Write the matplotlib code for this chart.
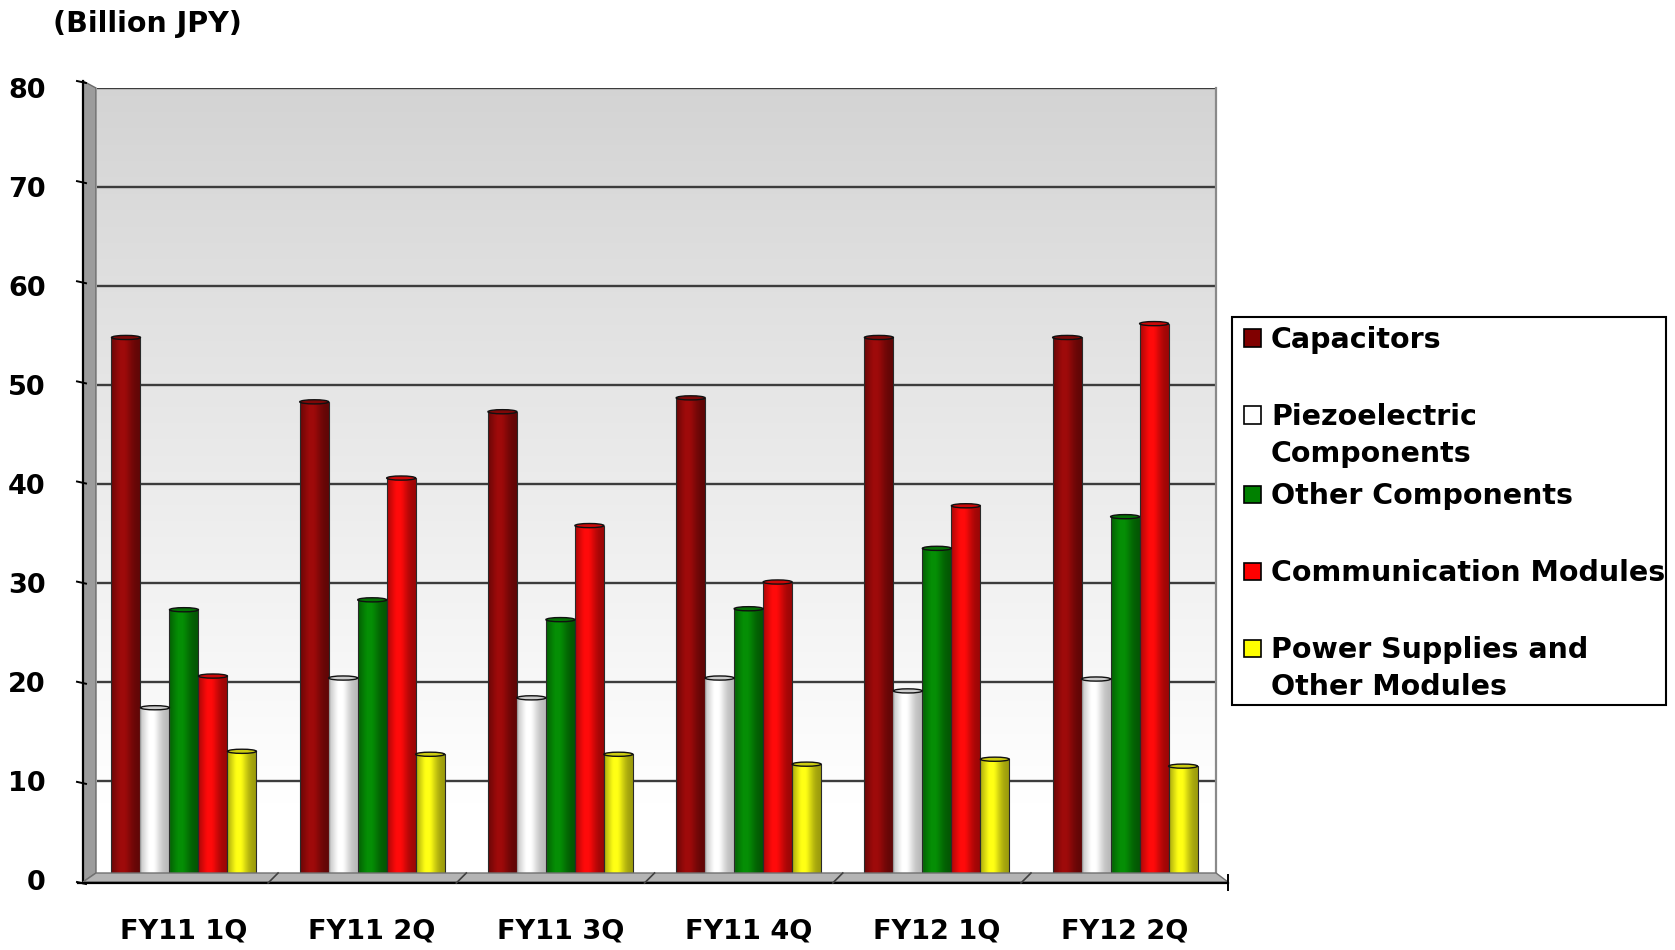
import numpy as np
import matplotlib
matplotlib.use("Agg")
import matplotlib.pyplot as plt
from matplotlib.patches import Rectangle, Ellipse, Polygon
from matplotlib.lines import Line2D

# ---- data (billion JPY) ----
quarters = ["FY11 1Q", "FY11 2Q", "FY11 3Q", "FY11 4Q", "FY12 1Q", "FY12 2Q"]
series_names = ["Capacitors", "Piezoelectric\nComponents", "Other Components",
                "Communication Modules", "Power Supplies and\nOther Modules"]
capacitors = [54.8, 48.3, 47.3, 48.7, 54.8, 54.8]
piezoelectric = [17.4, 20.4, 18.4, 20.4, 19.1, 20.3]
other_components = [27.3, 28.3, 26.3, 27.4, 33.5, 36.7]
communication_modules = [20.6, 40.6, 35.8, 30.1, 37.8, 56.2]
power_supplies = [13.0, 12.7, 12.7, 11.7, 12.2, 11.5]
y_ticks = [0, 10, 20, 30, 40, 50, 60, 70, 80]
unit_label = "(Billion JPY)"

series_values = [capacitors, piezoelectric, other_components,
                 communication_modules, power_supplies]
base_colors = [(0.62, 0.04, 0.04), (1.0, 1.0, 1.0), (0.02, 0.56, 0.02),
               (1.0, 0.04, 0.04), (1.0, 1.0, 0.08)]
legend_colors = ["#800000", "#ffffff", "#008000", "#ff0000", "#ffff00"]

W, H = 1675, 950
fig = plt.figure(figsize=(W / 100, H / 100), dpi=100)
fig.patch.set_facecolor("white")
FONT = "DejaVu Sans"


def fpt(x, y):
    """pixel position (origin top-left) -> figure fraction"""
    return (x / W, 1 - y / H)


# back wall = axes area
ax_left, ax_right, ax_top, ax_bottom = 97, 1216, 88, 880
ax = fig.add_axes([ax_left / W, 1 - ax_bottom / H,
                   (ax_right - ax_left) / W, (ax_bottom - ax_top) / H])
x_lo, x_hi = -0.462, 5.483
ax.set_xlim(x_lo, x_hi)
ax.set_ylim(0, 80)

# gradient wall: gray at the top fading to white at the bottom
yy = np.linspace(80, 0, 200)
shade = np.clip(0.83 + (80 - yy) / 72 * 0.17, 0, 1)
grad = np.repeat(shade[:, None], 2, axis=1)
ax.imshow(np.dstack([grad, grad, grad]), extent=(x_lo, x_hi, 0, 80),
          aspect="auto", interpolation="bilinear", zorder=0)

for v in y_ticks[1:]:
    ax.axhline(v, color="#3c3c3c", lw=1.7, zorder=1)

for s in ["left", "bottom", "top"]:
    ax.spines[s].set_visible(False)
ax.spines["right"].set_color("#8a8a8a")
ax.spines["right"].set_linewidth(1.6)

# cylinder bars
n_series = len(series_values)
bar_w = 0.154
t = np.linspace(0, 1, 64)
profile = 0.6 + 0.42 * np.exp(-((t - 0.4) / 0.32) ** 2)
profile = np.clip(profile, 0, 1)
for j, (vals, col) in enumerate(zip(series_values, base_colors)):
    c = np.array(col)
    img = np.clip(c[None, None, :] * profile[None, :, None], 0, 1)
    if j == 1:
        img = np.clip(0.72 + 0.28 * (img - 0.6) / 0.4, 0, 1)
    for i, v in enumerate(vals):
        x0 = i - n_series * bar_w / 2 + j * bar_w
        ax.imshow(img, extent=(x0, x0 + bar_w, 0, v), aspect="auto",
                  interpolation="bilinear", zorder=3)
        ax.add_patch(Rectangle((x0, 0), bar_w, v, fill=False,
                               edgecolor="#2a2a2a" if j != 1 else "#9a9a9a",
                               lw=0.8, zorder=4))
        ax.add_patch(Ellipse((x0 + bar_w / 2, v), bar_w, 0.42,
                             facecolor=tuple(c * 0.8), edgecolor="#111111",
                             lw=1.0, zorder=5))

ax.set_xticks(range(len(quarters)))
ax.set_xticklabels(quarters, fontsize=19.5, fontweight="bold", family=FONT)
ax.set_yticks(y_ticks)
ax.set_yticklabels([str(v) for v in y_ticks], fontsize=19.5, fontweight="bold",
                   family=FONT)
ax.tick_params(axis="x", length=0, pad=28)
ax.tick_params(axis="y", length=0, pad=37)

# left side wall
wall = Polygon([fpt(83, 81), fpt(96, 88), fpt(96, 873), fpt(83, 882)],
               closed=True, transform=fig.transFigure, facecolor="#9c9c9c",
               edgecolor="#6a6a6a", lw=1.0, zorder=2)
fig.add_artist(wall)
fig.add_artist(Line2D([83 / W, 83 / W], [1 - 81 / H, 1 - 883 / H],
                      color="black", lw=1.6, transform=fig.transFigure))

# floor
floor = Polygon([fpt(83, 882), fpt(96, 873), fpt(1216, 873), fpt(1228, 882)],
                closed=True, transform=fig.transFigure, facecolor="#b4b4b4",
                edgecolor="#707070", lw=1.0, zorder=2)
fig.add_artist(floor)
fig.add_artist(Line2D([78 / W, 1228 / W], [1 - 883 / H, 1 - 883 / H],
                      color="black", lw=1.6, transform=fig.transFigure))

# front-edge ticks on the value axis
for v in y_ticks:
    yf = 81 + (882 - 81) * (80 - v) / 80
    fig.add_artist(Line2D([77 / W, 86 / W], [1 - yf / H, 1 - (yf + 2) / H],
                          color="black", lw=1.4, transform=fig.transFigure))

# category dividers on the floor
for b in np.arange(0.5, len(quarters) - 0.5, 1.0):
    xb = ax.transData.transform((b, 0))[0]
    fig.add_artist(Line2D([xb / W, (xb - 10) / W], [1 - 873 / H, 1 - 883 / H],
                          color="#404040", lw=1.2, transform=fig.transFigure))
fig.add_artist(Line2D([1228 / W, 1228 / W], [1 - 875 / H, 1 - 890 / H],
                      color="black", lw=1.4, transform=fig.transFigure))

# unit label
fig.text(147 / W, 1 - 24 / H, unit_label, fontsize=20.5, fontweight="bold",
         family=FONT, ha="center", va="center")

# legend box
fig.add_artist(Rectangle(fpt(1232, 705), (1666 - 1232) / W, (705 - 317) / H,
                         transform=fig.transFigure, facecolor="white",
                         edgecolor="black", lw=1.5))
legend_y = [338, 415, 494, 571, 648]
for name, col, yc in zip(series_names, legend_colors, legend_y):
    fig.add_artist(Rectangle(fpt(1244, yc + 8.5), 17 / W, 17 / H,
                             transform=fig.transFigure, facecolor=col,
                             edgecolor="black", lw=1.2))
    for k, line in enumerate(name.split("\n")):
        fig.text(1271 / W, 1 - (yc + 10 + 37 * k) / H, line, fontsize=20.5,
                 fontweight="bold", family=FONT, ha="left", va="baseline")

fig.savefig("out.png", dpi=100, facecolor="white")
